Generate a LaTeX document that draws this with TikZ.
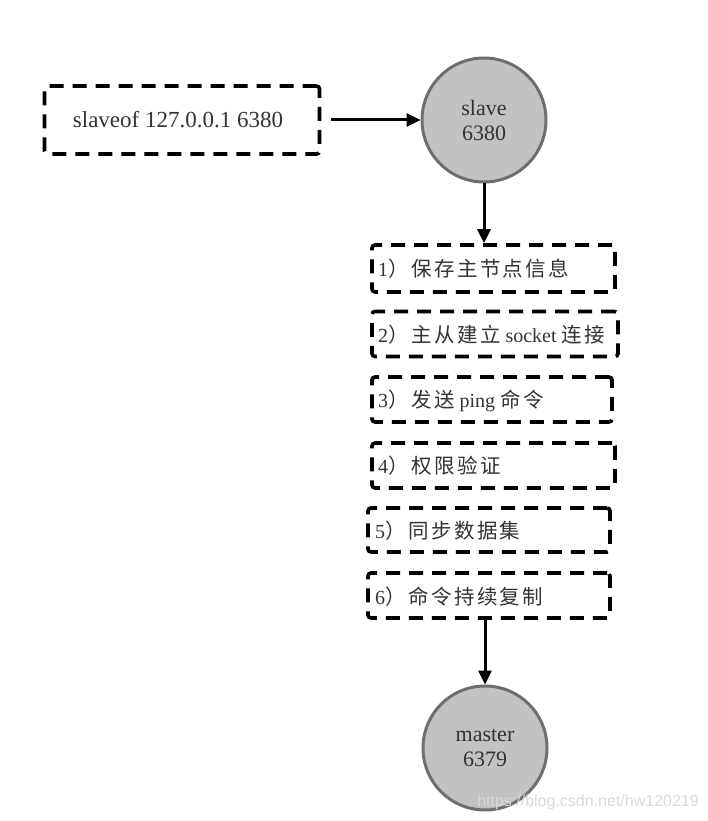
\documentclass[tikz,border=0pt]{standalone}
\usepackage{fontspec}
\setmainfont{Liberation Serif}
\newfontfamily\cjk[LetterSpace=12]{Noto Sans CJK SC}
\newfontfamily\wmfont{Liberation Sans}
\usetikzlibrary{arrows.meta}
\definecolor{circfill}{HTML}{C2C2C2}
\definecolor{circline}{HTML}{6E6E6E}
\definecolor{txt}{HTML}{333333}
\newcommand{\zh}[1]{{\cjk\fontsize{20.5}{24}\selectfont #1}}
\tikzset{
  dbox/.style={draw=black, line width=3.6pt, dash pattern=on 14pt off 9pt, rounded corners=3pt, inner sep=0pt},
  circ/.style={circle, draw=circline, line width=3pt, fill=circfill, minimum size=124pt, inner sep=0pt, align=center, text=txt, font=\fontsize{22}{25}\selectfont},
  lbl/.style={anchor=west, inner sep=0pt, text=txt, font=\fontsize{20}{23}\selectfont},
  arr/.style={line width=3pt, -{Triangle[length=14pt,width=13pt]}},
}
\begin{document}
\begin{tikzpicture}[x=1pt,y=-1pt]
\useasboundingbox (0,0) rectangle (708,821);
% slaveof box
\node[dbox, minimum width=275pt, minimum height=68pt] (cmd) at (182,120) {};
\node[inner sep=0pt, text=txt, font=\fontsize{23}{26}\selectfont] (cmdt) at (178,120) {slaveof 127.0.0.1 6380};
% circles
\node[circ] (slave) at (484,120) {slave\\6380};
\node[circ] (master) at (485,748) {master\\6379};
% step boxes
\node[dbox, minimum width=243pt, minimum height=47pt] (b1) at (493.5,268.5) {};
\node[dbox, minimum width=246pt, minimum height=45pt] (b2) at (495,334) {};
\node[dbox, minimum width=240pt, minimum height=45pt] (b3) at (492,399.5) {};
\node[dbox, minimum width=243pt, minimum height=45pt] (b4) at (493.5,465.5) {};
\node[dbox, minimum width=242pt, minimum height=44pt] (b5) at (489,530) {};
\node[dbox, minimum width=242pt, minimum height=45pt] (b6) at (489,595.5) {};
\node[lbl] (t1) at (378,269) {1\zh{）保存主节点信息}};
\node[lbl] (t2) at (378,335) {2\zh{）主从建立} socket \zh{连接}};
\node[lbl] (t3) at (378,401) {3\zh{）发送} ping \zh{命令}};
\node[lbl] (t4) at (378,466) {4\zh{）权限验证}};
\node[lbl] (t5) at (375,531) {5\zh{）同步数据集}};
\node[lbl] (t6) at (375,597) {6\zh{）命令持续复制}};
% arrows
\coordinate (c0) at ([xshift=10pt]cmd.east);
\draw[arr] (c0) -- (c0 -| slave.west);
\draw[arr] (slave.south) -- (slave.south |- b1.north);
\draw[arr] (b6.south -| master.north) -- (master.north);
% watermark
\node[inner sep=0pt, text=white!70!gray, font=\wmfont\fontsize{16}{19}\selectfont] (wm) at (588,802) {https://blog.csdn.net/hw120219};
\end{tikzpicture}
\end{document}
